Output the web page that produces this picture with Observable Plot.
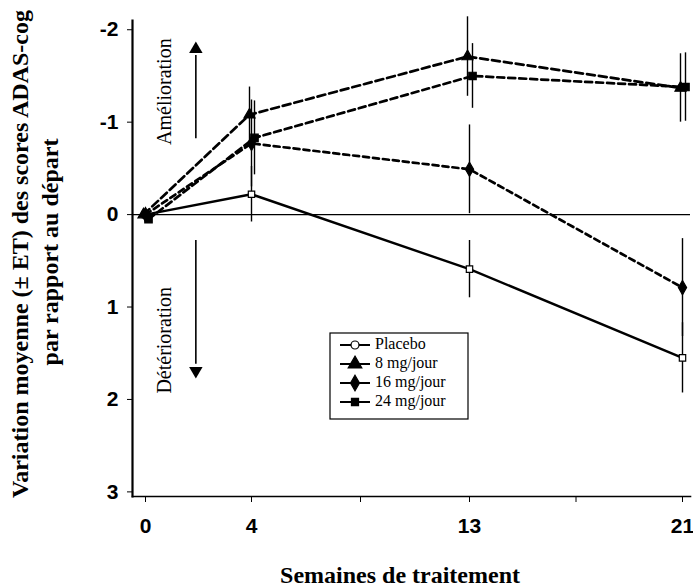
<!DOCTYPE html>
<html><head><meta charset="utf-8">
<script src="https://cdn.jsdelivr.net/npm/d3@7"></script>
<script src="https://cdn.jsdelivr.net/npm/@observablehq/plot@0.6"></script>
<style>body{margin:0;background:#fff} #chart{width:693px;height:588px}</style>
</head><body><div id="chart"></div>
<script>
// ---- data ----
const weeks = [0, 4, 13, 21];
const weekTicks = [0, 4, 8.5, 13, 17, 21];
const weekTickLabels = ["0", "4", "", "13", "", "21"];
const yTicks = [-2, -1, 0, 1, 2, 3];
const seriesNames = ["Placebo", "8 mg/jour", "16 mg/jour", "24 mg/jour"];
const placebo   = [0, -0.22, 0.59, 1.55];
const placeboSE = [0, 0.30, 0.31, 0.38];
const mg8       = [0, -1.08, -1.71, -1.37];
const mg8SE     = [0, 0.30, 0.43, 0.37];
const mg16      = [0, -0.77, -0.49, 0.79];
const mg16SE    = [0, 0.47, 0.48, 0.53];
const mg24      = [0.05, -0.83, -1.50, -1.38];
const mg24SE    = [0, 0.40, 0.35, 0.37];
const annLabels = ["Amélioration", "Détérioration"];

// ---- styles ----
const styles = [
  {symbol: "square", fill: "white", r: 3.6, dash: null, dx: 0, legendSymbol: "circle"},
  {symbol: "triangle", fill: "black", r: 4.1, dash: "8,4", dx: -2, legendSymbol: "triangle"},
  {symbol: "diamond", fill: "black", r: 4.3, dash: "6,4", dx: 0, legendSymbol: "diamond"},
  {symbol: "square", fill: "black", r: 4.2, dash: "7,4", dx: 3, legendSymbol: "square"}
];
const values = [placebo, mg8, mg16, mg24];
const ses = [placeboSE, mg8SE, mg16SE, mg24SE];
const series = seriesNames.map((name, i) => ({
  name, style: styles[i],
  rows: weeks.map((w, j) => ({week: w, v: values[i][j], lo: values[i][j] - ses[i][j], hi: values[i][j] + ses[i][j], se: ses[i][j]}))
}));

const marks = [];
marks.push(Plot.ruleY([0], {stroke: "black", strokeWidth: 1.2}));
// error bars
series.forEach(s => {
  marks.push(Plot.ruleX(s.rows.filter(d => d.se > 0), {x: "week", y1: "lo", y2: "hi", dx: s.style.dx, stroke: "black", strokeWidth: 1.4}));
});
// lines
series.forEach((s, i) => {
  marks.push(Plot.line(s.rows, {x: "week", y: "v", dx: s.style.dx, stroke: "black", strokeWidth: i === 0 ? 2.4 : 2.7, strokeDasharray: s.style.dash}));
});
// dots
series.forEach(s => {
  marks.push(Plot.dot(s.rows, {x: "week", y: "v", dx: s.style.dx, symbol: s.style.symbol, r: s.style.r, fill: s.style.fill, stroke: "black", strokeWidth: 1.2}));
});
// annotations
const ann = [
  {label: annLabels[0], x: 0.72, y: -1.33, ax: 1.9, y1: -0.82, y2: -1.72, tip: -1.79, rot: 0},
  {label: annLabels[1], x: 0.72, y: 1.36, ax: 1.9, y1: 0.28, y2: 1.62, tip: 1.69, rot: 180}
];
marks.push(Plot.text(ann, {x: "x", y: "y", text: "label", rotate: -90, fontFamily: "Liberation Serif", fontSize: 20, fill: "black"}));
marks.push(Plot.ruleX(ann, {x: "ax", y1: "y1", y2: "y2", stroke: "black", strokeWidth: 1.6}));
marks.push(Plot.dot(ann, {x: "ax", y: "tip", symbol: "triangle", r: 5, rotate: "rot", fill: "black", stroke: "none"}));
// axes
marks.push(Plot.axisY({ticks: yTicks, tickFormat: d => String(d), tickSize: 5, tickPadding: 9, fontFamily: "Liberation Sans", fontWeight: "bold", fontSize: 21, label: null}));
marks.push(Plot.axisX({ticks: weekTicks, tickFormat: d => weekTickLabels[weekTicks.indexOf(d)], tickSize: 6, tickPadding: 16, fontFamily: "Liberation Sans", fontWeight: "bold", fontSize: 21, label: null}));
marks.push(Plot.frame({anchor: "left", stroke: "black", strokeWidth: 2.2}));
marks.push(Plot.frame({anchor: "bottom", stroke: "black", strokeWidth: 1.6}));

const chart = Plot.plot({
  width: 693, height: 588,
  marginLeft: 132, marginRight: 3, marginTop: 20, marginBottom: 92,
  style: {background: "white", color: "black", overflow: "visible"},
  x: {type: "linear", domain: weeks, range: [145, 251, 469, 682]},
  y: {domain: [-2.1, 3.05], range: [20, 496]},
  marks
});

const svg = d3.select(chart);
// axis titles
const title = (tr, txt) => svg.append("text").attr("transform", tr)
  .attr("text-anchor", "middle").attr("dominant-baseline", "middle")
  .attr("font-family", "Liberation Serif").attr("font-weight", "bold").attr("font-size", 24)
  .attr("fill", "black").text(txt);
title("translate(22,254) rotate(-90)", "Variation moyenne (± ET) des scores ADAS-cog");
title("translate(52,252) rotate(-90)", "par rapport au départ");
title("translate(400,577)", "Semaines de traitement");

// legend
const lg = svg.append("g").attr("transform", "translate(330,333)").attr("text-anchor", "start");
lg.append("rect").attr("width", 138).attr("height", 86).attr("fill", "white").attr("stroke", "black").attr("stroke-width", 1.2);
const symMap = {circle: d3.symbolCircle, triangle: d3.symbolTriangle, diamond: d3.symbolDiamond, square: d3.symbolSquare};
const symSize = {circle: 50, triangle: 80, diamond: 70, square: 50};
series.forEach((s, i) => {
  const g = lg.append("g").attr("transform", `translate(0,${12 + i * 19})`);
  g.append("line").attr("x1", 10).attr("x2", 40).attr("stroke", "black").attr("stroke-width", 2);
  g.append("path").attr("transform", "translate(25,0)")
    .attr("d", d3.symbol(symMap[s.style.legendSymbol], symSize[s.style.legendSymbol])())
    .attr("fill", s.style.fill).attr("stroke", "black").attr("stroke-width", 1.2);
  g.append("text").attr("x", 45).attr("y", 0).attr("dominant-baseline", "middle")
    .attr("text-anchor", "start")
    .attr("font-family", "Liberation Serif").attr("font-size", 16).attr("fill", "black").text(s.name);
});

document.getElementById("chart").appendChild(chart);
</script></body></html>
